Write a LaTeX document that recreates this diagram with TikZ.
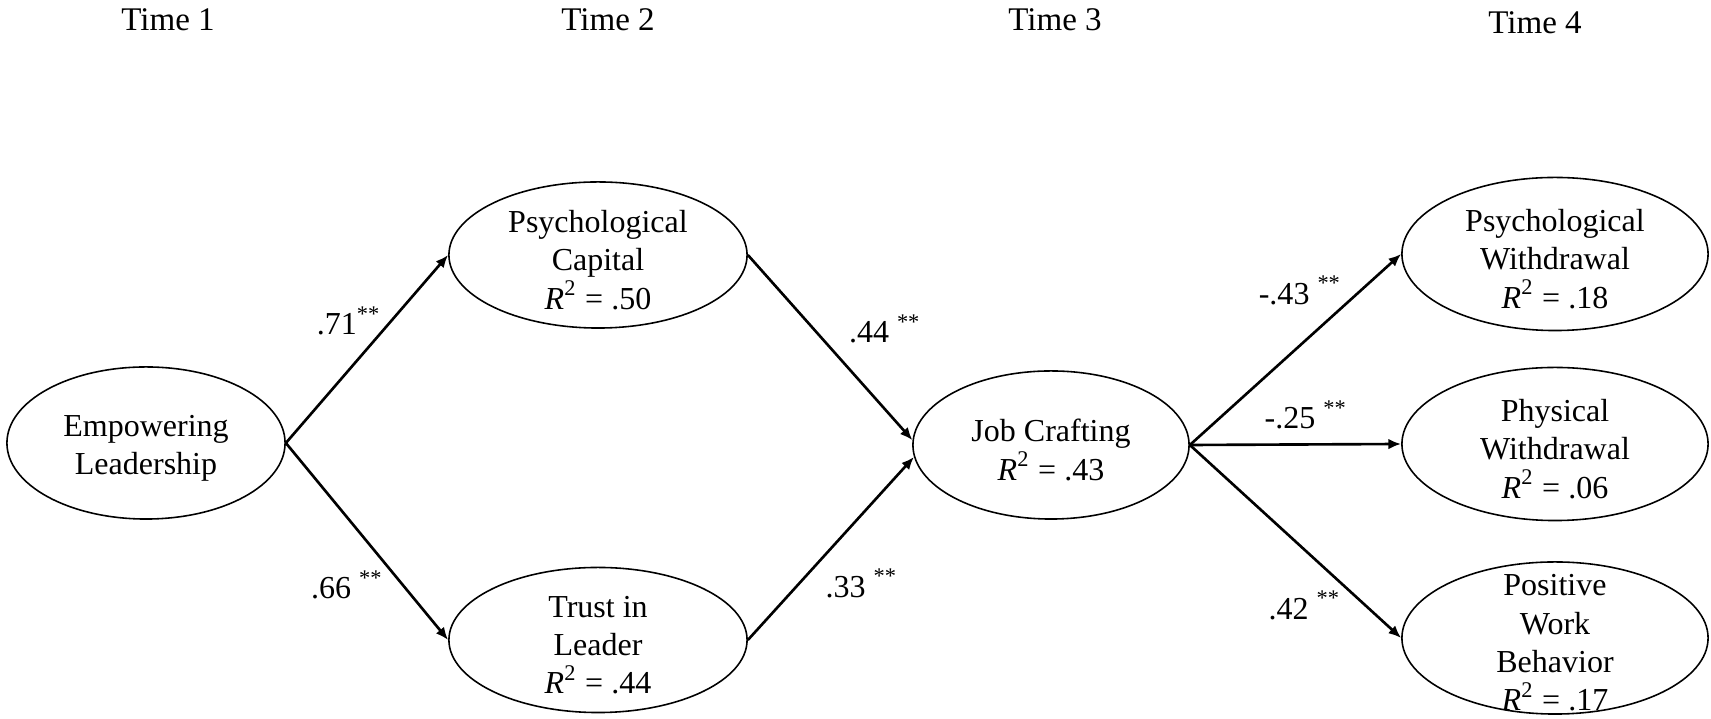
\documentclass[tikz,border=0pt]{standalone}
\usepackage{fontspec}
\setmainfont{Liberation Serif}
\usetikzlibrary{arrows.meta,shapes.geometric}

\tikzset{
    latent/.style={draw, ellipse, line width=0.45pt, inner sep=0pt,
        minimum width=3.06cm, minimum height=1.53cm},
    txt/.style={align=center, inner sep=0pt, font=\fontsize{9.1pt}{10.9pt}\selectfont},
    intxt/.style={txt, yshift=-0.5mm},
    coef/.style={inner sep=0pt, font=\fontsize{9.1pt}{10.8pt}\selectfont},
    effect/.style={line width=0.75pt, -{Latex[length=3.6pt,width=3pt]}},
}
\newcommand{\rsq}[1]{\textit{R}\textsuperscript{2} = #1}

\begin{document}
\begin{tikzpicture}[x=0.01cm, y=-0.01cm]
        \useasboundingbox (0,0) rectangle (1711,719);

        % waves
        \node[txt, anchor=base, font=\fontsize{9.4pt}{11pt}\selectfont] (t1) at (168,31) {Time 1};
        \node[txt, anchor=base, font=\fontsize{9.4pt}{11pt}\selectfont] (t2) at (608,31) {Time 2};
        \node[txt, anchor=base, font=\fontsize{9.4pt}{11pt}\selectfont] (t3) at (1055,31) {Time 3};
        \node[txt, anchor=base, font=\fontsize{9.4pt}{11pt}\selectfont] (t4) at (1535,34) {Time 4};

        \node[latent, minimum width=2.78cm, minimum height=1.52cm,
              label={[intxt]center:Empowering\\Leadership}] (emp) at (146,443) {};
        \node[latent, minimum width=2.98cm, minimum height=1.46cm,
              label={[intxt]center:Psychological\\Capital\\\rsq{.50}}] (psc) at (598,255) {};
        \node[latent, minimum width=2.98cm, minimum height=1.45cm,
              label={[intxt]center:Trust in\\Leader\\\rsq{.44}}] (tru) at (598,640) {};
        \node[latent, minimum width=2.76cm, minimum height=1.48cm,
              label={[intxt]center:Job Crafting\\\rsq{.43}}] (job) at (1051,445) {};
        \node[latent,
              label={[intxt]center:Psychological\\Withdrawal\\\rsq{.18}}] (psw) at (1555,254) {};
        \node[latent,
              label={[intxt]center:Physical\\Withdrawal\\\rsq{.06}}] (phw) at (1555,444) {};
        \node[latent, minimum height=1.52cm,
              label={[intxt]center:Positive\\Work\\Behavior\\\rsq{.17}}] (pwb) at (1555,638) {};

        \draw[effect] (emp.east) -- node[coef, pos=0.65, left=0.9mm] {.71\textsuperscript{**}} (psc.west);
        \draw[effect] (emp.east) -- node[coef, pos=0.72, left=1.8mm] {.66 \textsuperscript{**}} (tru.west);
        \draw[effect] (psc.east) -- node[coef, pos=0.4, right=3.4mm] {.44 \textsuperscript{**}} (job.178);
        \draw[effect] (tru.east) -- node[coef, pos=0.31, right=2.5mm] {.33 \textsuperscript{**}} (job.185);

        \draw[effect] (job.east) -- node[coef, pos=0.81, left=1.8mm] {-.43 \textsuperscript{**}} (psw.west);
        \draw[effect] (job.east) -- node[coef, pos=0.55, above=1.4mm] {-.25 \textsuperscript{**}} (phw.west);
        \draw[effect] (job.east) -- node[coef, pos=0.83, left=2.3mm] {.42 \textsuperscript{**}} (pwb.west);
\end{tikzpicture}
\end{document}
